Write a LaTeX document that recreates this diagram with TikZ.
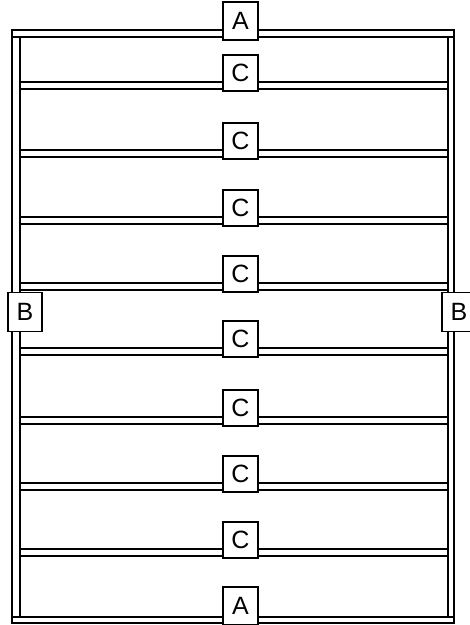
\documentclass[tikz,border=0pt]{standalone}
\usepackage{fontspec}
\setmainfont{Liberation Sans}
\begin{document}
\begin{tikzpicture}[
  x=1pt, y=-1pt,
  beam/.style={line width=1.7pt},
  tag/.style={draw, line width=1.4pt, fill=white, inner sep=0pt,
    minimum width=35pt, minimum height=36pt,
    font=\fontsize{25}{25}\selectfont}
]
  \useasboundingbox (0,0) rectangle (470,625);
  \clip (0,0) rectangle (470,625);
  % outer frame
  \draw[beam] (12,30) rectangle (454,623);
  \draw[beam] (12,37) -- (454,37);
  \draw[beam] (12,617) -- (454,617);
  \draw[beam] (20,37) -- (20,617);
  \draw[beam] (448,37) -- (448,617);
  % rungs with their tags
  \foreach \y [count=\i] in {82,150,217,283,348,417,483,549} {
    \draw[beam] (20,\y) -- (448,\y);
    \draw[beam] (20,\y+7) -- (448,\y+7);
    \node[tag] (c\i) at (240.5,\y-9) {C};
  }
  \node[tag, minimum height=38pt] (a1) at (240.5,21) {A};
  \node[tag, minimum height=38pt] (a2) at (240.5,606) {A};
  \node[tag, minimum width=34pt, minimum height=39pt] (b1) at (25,312) {B};
  \node[tag, minimum width=34pt, minimum height=39pt] (b2) at (459,312) {B};
\end{tikzpicture}
\end{document}
